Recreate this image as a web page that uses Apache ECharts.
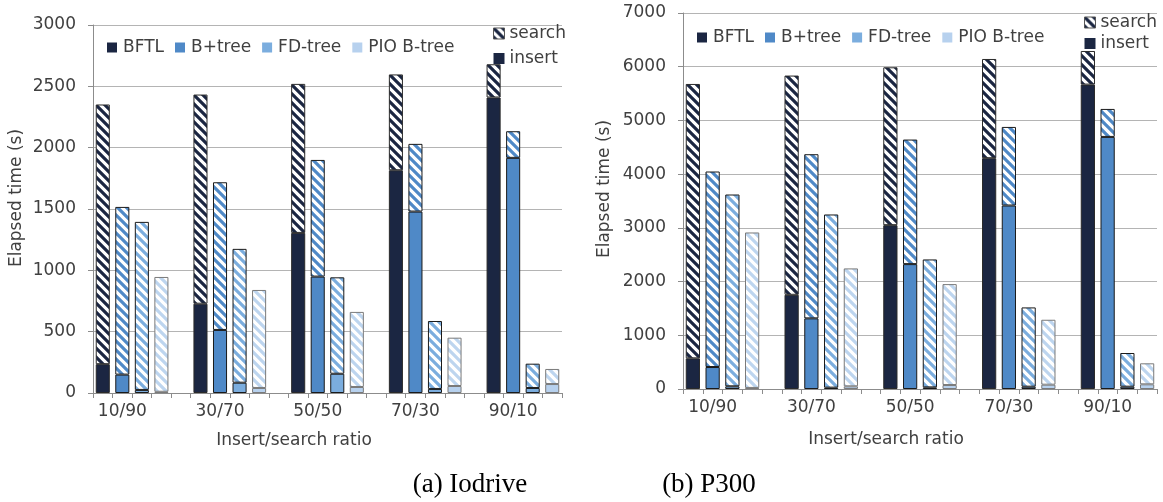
<!DOCTYPE html>
<html><head><meta charset="utf-8">
<script src="https://cdn.jsdelivr.net/npm/echarts@6/dist/echarts.min.js"></script>
<style>html,body{margin:0;padding:0;background:#fff}#c{width:1163px;height:502px}</style>
</head><body><div id="c"></div>
<script>
// ---- data ----
const groups = ['10/90', '30/70', '50/50', '70/30', '90/10'];
const methods = ['BFTL', 'B+tree', 'FD-tree', 'PIO B-tree'];

// (a) Iodrive, seconds
const iodriveInsertBFTL = [235, 728, 1305, 1816, 2409];
const iodriveSearchBFTL = [2117, 1705, 1215, 781, 271];
const iodriveInsertBPlus = [150, 514, 949, 1479, 1917];
const iodriveSearchBPlus = [1367, 1204, 951, 552, 217];
const iodriveInsertFD = [25, 84, 157, 33, 41];
const iodriveSearchFD = [1370, 1091, 786, 554, 198];
const iodriveInsertPIO = [10, 41, 49, 57, 73];
const iodriveSearchPIO = [936, 799, 612, 394, 123];

// (b) P300, seconds
const p300InsertBFTL = [571, 1754, 3050, 4297, 5667];
const p300SearchBFTL = [5108, 4081, 2939, 1847, 626];
const p300InsertBPlus = [409, 1315, 2325, 3416, 4693];
const p300SearchBPlus = [3640, 3056, 2319, 1463, 521];
const p300InsertFD = [50, 25, 30, 43, 43];
const p300SearchFD = [3571, 3224, 2382, 1476, 627];
const p300InsertPIO = [20, 50, 74, 80, 87];
const p300SearchPIO = [2894, 2195, 1879, 1209, 391];

const iodriveAxis = {min: 0, max: 3000, interval: 500};
const p300Axis = {min: 0, max: 7000, interval: 1000};

// ---- styling ----
const solid = ['#1b2642', '#4f89c7', '#7badde', '#b7d1ee'];
const stripe = ['#1b2642', '#4f89c7', '#7badde', '#bdd5ef'];
const border = ['#2a2a2a', '#1a1a1a', '#1a1a1a', '#7a7a7a'];
const textColor = '#404040';
const FONT = 'DejaVu Sans';

function hatch(color) {
  const s = 9;
  const c = document.createElement('canvas');
  c.width = s; c.height = s;
  const x = c.getContext('2d');
  x.fillStyle = '#fff'; x.fillRect(0, 0, s, s);
  x.strokeStyle = color; x.lineWidth = 3.2; x.lineCap = 'square';
  x.beginPath();
  for (const k of [-s, 0, s]) { x.moveTo(k - 2, -2); x.lineTo(k + s + 2, s + 2); }
  x.stroke();
  return {image: c, repeat: 'repeat'};
}

const NSLOT = 24;
function slots(values, m) {
  const arr = new Array(NSLOT).fill('-');
  values.forEach((v, g) => { arr[g * 5 + m] = v; });
  return arr;
}
const slotCats = Array.from({length: NSLOT}, (_, i) => String(i));
function slotLabel(i) { return (i % 5 === 1) ? groups[(i - 1) / 5] : ''; }

function chartSeries(g, inserts, searches) {
  const out = [];
  for (let m = 0; m < 4; m++) {
    out.push({
      name: methods[m], type: 'bar', xAxisIndex: g, yAxisIndex: g, stack: 's' + g,
      barWidth: '72%', data: slots(inserts[m], m),
      itemStyle: {color: solid[m], borderColor: border[m], borderWidth: 1}
    });
    out.push({
      name: methods[m] + ' search', type: 'bar', xAxisIndex: g, yAxisIndex: g, stack: 's' + g,
      barWidth: '72%', data: slots(searches[m], m),
      itemStyle: {color: hatch(stripe[m]), borderColor: border[m], borderWidth: 1}
    });
  }
  out.push({name: 'search', type: 'bar', xAxisIndex: g, yAxisIndex: g, stack: 's' + g, data: [],
    itemStyle: {color: hatch(solid[0]), borderColor: '#555', borderWidth: 1}});
  out.push({name: 'insert', type: 'bar', xAxisIndex: g, yAxisIndex: g, stack: 's' + g, data: [],
    itemStyle: {color: solid[0]}});
  return out;
}

const axisText = {color: textColor, fontFamily: FONT, fontSize: 17};

function makeX(g) {
  return {
    type: 'category', gridIndex: g, data: slotCats, boundaryGap: true,
    axisLine: {lineStyle: {color: '#8c8c8c', width: 1}},
    axisTick: {show: true, interval: 0, length: 5, lineStyle: {color: '#8c8c8c'}},
    axisLabel: Object.assign({interval: 0, formatter: (v, i) => slotLabel(i), margin: 10}, axisText),
    splitLine: {show: false}
  };
}
function makeY(g, ax) {
  return {
    type: 'value', gridIndex: g, min: ax.min, max: ax.max, interval: ax.interval,
    axisLine: {show: true, lineStyle: {color: '#8c8c8c'}},
    axisTick: {show: true, length: 5, lineStyle: {color: '#8c8c8c'}},
    axisLabel: Object.assign({margin: 17, formatter: v => String(v)}, axisText),
    splitLine: {show: true, lineStyle: {color: '#b4b4b4', width: 1}}
  };
}

function legendMethods(left, top) {
  return {
    data: methods, left: left, top: top, padding: 0, orient: 'horizontal', icon: 'rect',
    itemWidth: 10, itemHeight: 10, itemGap: 11, selectedMode: false,
    itemStyle: {borderWidth: 0},
    textStyle: {color: textColor, fontFamily: FONT, fontSize: 17, lineHeight: 16, padding: [0, 0, 0, 1]}
  };
}
function legendKinds(left, top, gap) {
  return {
    data: [{name: 'search', itemStyle: {borderWidth: 1, borderColor: '#555'}}, 'insert'],
    left: left, top: top, padding: 0, orient: 'vertical', icon: 'rect',
    itemWidth: 11, itemHeight: 11, itemGap: gap, selectedMode: false,
    itemStyle: {borderWidth: 0},
    textStyle: {color: textColor, fontFamily: FONT, fontSize: 17, lineHeight: 16}
  };
}

function txt(x, y, s, opts) {
  return {type: 'text', x: x, y: y, silent: true,
    style: Object.assign({text: s, fill: textColor, font: '17px "' + FONT + '"',
      textAlign: 'center', textVerticalAlign: 'middle'}, opts || {})};
}

const chart = echarts.init(document.getElementById('c'), null, {renderer: 'canvas'});
chart.setOption({
  animation: false,
  backgroundColor: '#fff',
  textStyle: {fontFamily: FONT},
  grid: [
    {left: 93, top: 25, width: 469, height: 368},
    {left: 683, top: 13, width: 474, height: 376}
  ],
  xAxis: [makeX(0), makeX(1)],
  yAxis: [makeY(0, iodriveAxis), makeY(1, p300Axis)],
  legend: [
    legendMethods(107, 39),
    legendKinds(493, 25, 8),
    legendMethods(697, 29),
    legendKinds(1084, 14, 4)
  ],
  series: [
    ...chartSeries(0,
      [iodriveInsertBFTL, iodriveInsertBPlus, iodriveInsertFD, iodriveInsertPIO],
      [iodriveSearchBFTL, iodriveSearchBPlus, iodriveSearchFD, iodriveSearchPIO]),
    ...chartSeries(1,
      [p300InsertBFTL, p300InsertBPlus, p300InsertFD, p300InsertPIO],
      [p300SearchBFTL, p300SearchBPlus, p300SearchFD, p300SearchPIO])
  ],
  graphic: [
    Object.assign(txt(17, 198, 'Elapsed time (s)'), {rotation: Math.PI / 2}),
    Object.assign(txt(605, 189, 'Elapsed time (s)'), {rotation: Math.PI / 2}),
    txt(294, 441, 'Insert/search ratio'),
    txt(886, 440, 'Insert/search ratio'),
    txt(470, 485, '(a) Iodrive', {fill: '#000', font: '27px "Liberation Serif"'}),
    txt(709, 485, '(b) P300', {fill: '#000', font: '27px "Liberation Serif"'})
  ]
});
</script></body></html>
